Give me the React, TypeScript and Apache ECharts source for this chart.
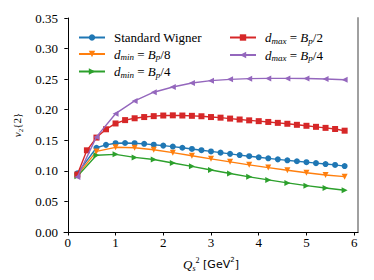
import React, { useEffect, useRef } from "react";
import * as echarts from "echarts";

const xFine = [0.2, 0.4, 0.6, 0.8, 1.0, 1.2, 1.4, 1.6, 1.8, 2.0, 2.2, 2.4, 2.6, 2.8, 3.0, 3.2, 3.4, 3.6, 3.8, 4.0, 4.2, 4.4, 4.6, 4.8, 5.0, 5.2, 5.4, 5.6, 5.8];
const xBlue = [0.2, 0.6, 0.8, 1.0, 1.2, 1.4, 1.6, 1.8, 2.0, 2.2, 2.4, 2.6, 2.8, 3.0, 3.2, 3.4, 3.6, 3.8, 4.0, 4.2, 4.4, 4.6, 4.8, 5.0, 5.2, 5.4, 5.6, 5.8];
const xCoarse = [0.2, 0.6, 1.0, 1.4, 1.8, 2.2, 2.6, 3.0, 3.4, 3.8, 4.2, 4.6, 5.0, 5.4, 5.8];

const standardWigner = [0.096, 0.1378, 0.1425, 0.1452, 0.1456, 0.1452, 0.1442, 0.1428, 0.1413, 0.1397, 0.1378, 0.1358, 0.1338, 0.1318, 0.1298, 0.1278, 0.1258, 0.124, 0.1222, 0.1205, 0.1188, 0.1172, 0.1157, 0.1142, 0.1126, 0.1111, 0.1097, 0.1078];
const dmin8 = [0.093, 0.1318, 0.1385, 0.1378, 0.1345, 0.1298, 0.1248, 0.1196, 0.1147, 0.1098, 0.1053, 0.101, 0.0968, 0.0933, 0.0905];
const dmin4 = [0.091, 0.1255, 0.127, 0.122, 0.1185, 0.1128, 0.1074, 0.1014, 0.0956, 0.0902, 0.0852, 0.0803, 0.0758, 0.072, 0.0683];
const dmax2 = [0.094, 0.1336, 0.1544, 0.168, 0.1775, 0.183, 0.186, 0.188, 0.1895, 0.1905, 0.1908, 0.1905, 0.19, 0.1893, 0.188, 0.187, 0.1855, 0.184, 0.1826, 0.1813, 0.18, 0.1785, 0.177, 0.1753, 0.1737, 0.172, 0.1703, 0.1685, 0.1657];
const dmax4 = [0.09, 0.1555, 0.1935, 0.2144, 0.2286, 0.2371, 0.2437, 0.2475, 0.2497, 0.2508, 0.2512, 0.2512, 0.251, 0.2503, 0.249];

const yTicks = ["0.00", "0.05", "0.10", "0.15", "0.20", "0.25", "0.30", "0.35"];

const SERIF = "Liberation Serif";
const SANS = "DejaVu Sans";

const pairs = (xs: number[], ys: number[]) => xs.map((x, i) => [x, ys[i]]);

const legendLabels: Record<string, string> = {
  "Standard Wigner": "{t|Standard Wigner}",
  dmin8: "{it|d}{sub|min}{t| = }{it|B}{sub|p}{t|/8}",
  dmin4: "{it|d}{sub|min}{t| = }{it|B}{sub|p}{t|/4}",
  dmax2: "{it|d}{sub|max}{t| = }{it|B}{sub|p}{t|/2}",
  dmax4: "{it|d}{sub|max}{t| = }{it|B}{sub|p}{t|/4}",
};

const rich = {
  t: { fontFamily: SERIF, fontSize: 13, color: "#000", lineHeight: 15 },
  it: { fontFamily: SERIF, fontStyle: "italic", fontSize: 13, color: "#000", lineHeight: 15 },
  sub: { fontFamily: SERIF, fontStyle: "italic", fontSize: 9, color: "#000", lineHeight: 15, verticalAlign: "bottom" },
};

export default function App() {
  const ref = useRef<HTMLDivElement>(null);
  useEffect(() => {
    if (!ref.current) return;
    const chart = echarts.init(ref.current, null, { renderer: "svg" });
    const mk = (name: string, xs: number[], ys: number[], color: string, symbol: string, rotate: number, size: number, z: number) => ({
      name,
      type: "line",
      data: pairs(xs, ys),
      symbol,
      symbolRotate: rotate,
      symbolSize: size,
      showAllSymbol: true,
      itemStyle: { color },
      lineStyle: { color, width: 1.4 },
      z,
    });
    const legendCommon = {
      orient: "vertical",
      itemWidth: 26,
      itemHeight: 8,
      itemGap: 3.5,
      formatter: (n: string) => legendLabels[n],
      textStyle: { rich, fontFamily: SERIF, fontSize: 13, color: "#000", padding: [0, 0, 0, 4] },
    };
    chart.setOption({
      animation: false,
      backgroundColor: "#fff",
      grid: { left: 64, right: 16, top: 18, bottom: 48 },
      legend: [
        { ...legendCommon, left: 73, top: 26, data: ["Standard Wigner", "dmin8", "dmin4"] },
        { ...legendCommon, left: 224, top: 26, data: ["dmax2", "dmax4"] },
      ],
      xAxis: {
        type: "value",
        min: -0.08,
        max: 6.08,
        minInterval: 1,
        maxInterval: 1,
        name: "{it|Q}{sub|s}{sup|2}{g| [GeV}{gs|2}{g|]}",
        nameLocation: "middle",
        nameGap: 24,
        nameTextStyle: {
          rich: {
            it: { fontFamily: SERIF, fontStyle: "italic", fontSize: 13, color: "#000", lineHeight: 16 },
            sub: { fontFamily: SERIF, fontStyle: "italic", fontSize: 8, color: "#000", lineHeight: 16, verticalAlign: "bottom" },
            sup: { fontFamily: SERIF, fontSize: 8, color: "#000", lineHeight: 16, verticalAlign: "top" },
            g: { fontFamily: SANS, fontSize: 11, color: "#000", lineHeight: 16 },
            gs: { fontFamily: SANS, fontSize: 7, color: "#000", lineHeight: 16, verticalAlign: "top" },
          },
        },
        axisLine: { show: true, onZero: false, lineStyle: { color: "#000", width: 1 } },
        axisTick: { show: true, length: 3.5, lineStyle: { color: "#000" } },
        axisLabel: {
          fontFamily: SERIF,
          fontSize: 13,
          color: "#000",
          margin: 4,
          showMinLabel: false,
          showMaxLabel: false,
          formatter: (v: number) => (Math.abs(v - Math.round(v)) < 1e-6 ? String(Math.round(v)) : ""),
        },
        splitLine: { show: false },
      },
      yAxis: [
        {
          type: "value",
          min: 0,
          max: 0.35,
          interval: 0.05,
          name: "{it|v}{sub|2}{t|{2}" + "}",
          nameLocation: "middle",
          nameRotate: 90,
          nameGap: 38,
          nameTextStyle: {
            fontFamily: SERIF,
            fontSize: 11,
            color: "#000",
            rich: {
              it: { fontFamily: SERIF, fontStyle: "italic", fontSize: 11, color: "#000", lineHeight: 14 },
              sub: { fontFamily: SERIF, fontSize: 7, color: "#000", lineHeight: 14, verticalAlign: "bottom" },
              t: { fontFamily: SERIF, fontSize: 11, color: "#000", lineHeight: 14 },
            },
          },
          axisLine: { show: true, lineStyle: { color: "#000", width: 1 } },
          axisTick: { show: true, length: 3.5, lineStyle: { color: "#000" } },
          axisLabel: {
            fontFamily: SERIF,
            fontSize: 13,
            color: "#000",
            margin: 6,
            formatter: (_v: number, i: number) => yTicks[i],
          },
          splitLine: { show: false },
        },
        {
          type: "value",
          position: "right",
          min: 0,
          max: 0.35,
          axisLine: { show: true, lineStyle: { color: "#a0a0a0", width: 2 } },
          axisTick: { show: false },
          axisLabel: { show: false },
          splitLine: { show: false },
        },
      ],
      series: [
        mk("Standard Wigner", xBlue, standardWigner, "#1f77b4", "circle", 0, 6, 2),
        mk("dmin8", xCoarse, dmin8, "#ff7f0e", "triangle", 180, 6, 3),
        mk("dmin4", xCoarse, dmin4, "#2ca02c", "triangle", -90, 6, 4),
        mk("dmax2", xFine, dmax2, "#d62728", "rect", 0, 6, 5),
        mk("dmax4", xCoarse, dmax4, "#9467bd", "triangle", 90, 6, 6),
      ],
    });
    return () => chart.dispose();
  }, []);
  return <div ref={ref} style={{ width: 374, height: 280, margin: -8 }} />;
}
